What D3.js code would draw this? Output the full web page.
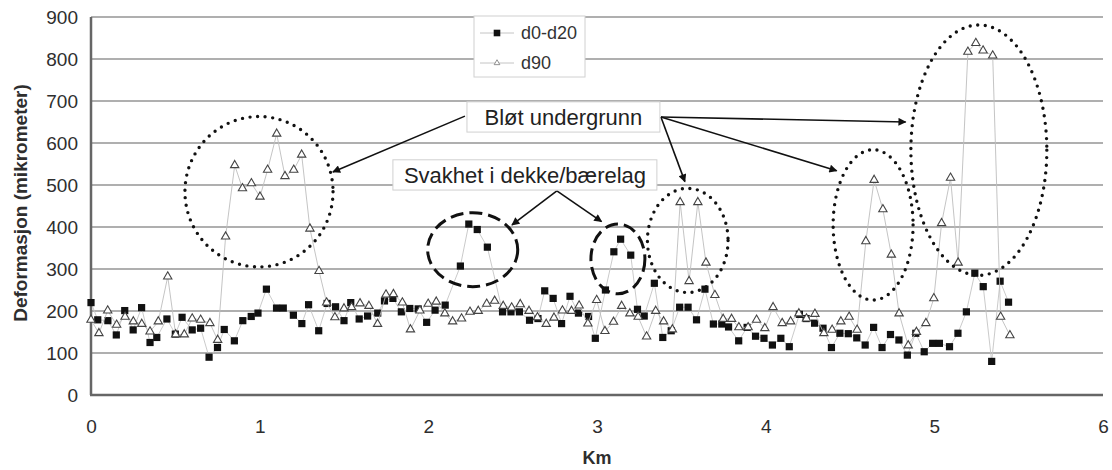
<!DOCTYPE html>
<html><head><meta charset="utf-8">
<script src="https://cdn.jsdelivr.net/npm/d3@7"></script>
<style>
body{margin:0;background:#fff}
svg{display:block}
text{font-family:"Liberation Sans", Arial, sans-serif}
</style>
</head><body>
<svg id="chart" width="1112" height="470"></svg>
<script>
// ---------- data ----------
const kmSquares = [0.00,0.04,0.10,0.15,0.20,0.25,0.30,0.35,0.39,0.45,0.50,0.54,0.60,0.65,0.70,0.75,0.79,0.85,0.90,0.95,0.99,1.04,1.10,1.14,1.20,1.25,1.29,1.35,1.40,1.45,1.50,1.54,1.59,1.64,1.70,1.74,1.79,1.84,1.89,1.94,1.99,2.04,2.10,2.19,2.24,2.29,2.35,2.44,2.49,2.54,2.60,2.65,2.69,2.74,2.79,2.84,2.89,2.95,2.99,3.05,3.10,3.14,3.20,3.24,3.28,3.34,3.39,3.44,3.49,3.54,3.59,3.64,3.69,3.74,3.78,3.84,3.89,3.94,3.99,4.04,4.09,4.14,4.20,4.24,4.29,4.34,4.39,4.44,4.49,4.54,4.59,4.64,4.69,4.74,4.79,4.84,4.89,4.94,4.99,5.03,5.09,5.14,5.19,5.24,5.29,5.34,5.39,5.44];
const d0d20 = [220,179,177,143,201,155,208,125,137,181,145,185,155,159,90,113,156,129,177,187,195,252,207,207,190,170,215,153,218,210,177,220,181,188,195,224,230,198,206,205,173,202,214,307,407,394,352,198,198,198,178,182,248,230,170,235,195,187,135,250,341,371,333,204,188,266,137,153,209,209,179,252,169,169,162,129,161,140,135,119,135,115,192,182,171,159,113,147,146,136,119,161,113,144,131,95,147,103,123,123,115,147,198,290,258,80,271,221];

const kmTriangles = [0.000,0.047,0.099,0.152,0.202,0.251,0.301,0.350,0.399,0.455,0.502,0.553,0.600,0.650,0.705,0.751,0.798,0.852,0.898,0.951,1.002,1.047,1.101,1.150,1.202,1.249,1.298,1.352,1.397,1.446,1.500,1.545,1.595,1.648,1.699,1.749,1.793,1.846,1.894,1.950,1.999,2.047,2.098,2.144,2.197,2.247,2.296,2.346,2.393,2.444,2.494,2.545,2.597,2.647,2.699,2.745,2.795,2.849,2.894,2.946,2.998,3.047,3.098,3.146,3.195,3.244,3.294,3.348,3.395,3.447,3.493,3.546,3.598,3.646,3.699,3.748,3.798,3.841,3.896,3.946,3.995,4.044,4.098,4.148,4.197,4.242,4.292,4.345,4.394,4.446,4.495,4.542,4.594,4.643,4.695,4.745,4.791,4.845,4.894,4.950,4.997,5.043,5.096,5.141,5.199,5.246,5.289,5.346,5.393,5.448];
const d90 = [179,147,201,167,186,175,169,151,175,282,144,144,182,179,171,131,377,547,492,504,472,536,622,521,536,572,396,295,220,185,206,209,218,212,169,239,240,220,156,201,217,222,194,175,182,198,200,217,224,212,208,216,200,185,169,184,201,200,213,170,226,152,174,212,194,186,139,200,175,156,459,271,459,315,238,181,181,161,161,179,159,209,171,175,194,182,193,147,155,175,186,155,366,512,442,334,194,118,150,171,230,409,517,315,817,838,820,808,186,142];

const xTicks = [0,1,2,3,4,5,6];
const yTicks = [0,100,200,300,400,500,600,700,800,900];
const seriesNames = ["d0-d20","d90"];
const xTitle = "Km";
const yTitle = "Deformasjon (mikrometer)";

// annotations in data units (km, mikrometer)
const ellipseCx = [0.996,2.263,3.124,3.538,4.637,5.264];
const ellipseCy = [484,346,324,368,405,583];
const ellipseRx = [0.439,0.267,0.160,0.239,0.237,0.403];
const ellipseRy = [179,88,83,124,179,298];
const ellipseKind = ["dot","dash","dash","dot","dot","dot"];

const labelTexts = ["Bløt undergrunn","Svakhet i dekke/bærelag"];
const labelX = [2.801,2.573];
const labelY = [662,524];
const boxX1 = [2.229,1.790], boxX2 = [3.373,3.355];
const boxY1 = [698,560], boxY2 = [626,488];

const arrowX1 = [2.217,3.379,3.379,3.379,2.762,2.762];
const arrowY1 = [664,662,662,662,486,486];
const arrowX2 = [1.434,4.830,4.421,3.521,2.496,3.027];
const arrowY2 = [531,650,534,508,405,413];

// ---------- chart ----------
const svg = d3.select("#chart");
const x = d3.scaleLinear().domain([0,6]).range([91,1103]);
const y = d3.scaleLinear().domain([0,900]).range([395,17]);

// gridlines
svg.append("g").selectAll("line").data(yTicks.filter(d=>d>0)).join("line")
  .attr("x1",x(0)).attr("x2",x(6)).attr("y1",d=>y(d)).attr("y2",d=>y(d))
  .attr("stroke","#959595").attr("stroke-width",1.4);

// axes lines
svg.append("line").attr("x1",x(0)).attr("x2",x(0)).attr("y1",y(0)).attr("y2",y(900))
  .attr("stroke","#666").attr("stroke-width",2.5);
svg.append("line").attr("x1",x(0)-1).attr("x2",x(6)).attr("y1",y(0)).attr("y2",y(0))
  .attr("stroke","#666").attr("stroke-width",2.5);

// tick labels
const yAxis = svg.append("g").attr("transform",`translate(${x(0)},0)`)
  .call(d3.axisLeft(y).tickValues(yTicks).tickSize(0).tickPadding(13).tickFormat(d3.format("d")));
yAxis.select(".domain").remove();
yAxis.selectAll("text").attr("font-size",19).attr("fill","#2e2e2e").attr("font-family","Liberation Sans, Arial, sans-serif");

const xAxis = svg.append("g").attr("transform",`translate(0,${y(0)})`)
  .call(d3.axisBottom(x).tickValues(xTicks).tickSize(0).tickPadding(25).tickFormat(d3.format("d")));
xAxis.select(".domain").remove();
xAxis.selectAll("text").attr("font-size",19).attr("fill","#2e2e2e").attr("font-family","Liberation Sans, Arial, sans-serif");

// titles
svg.append("text").attr("x",597).attr("y",464).attr("text-anchor","middle")
  .attr("font-size",18).attr("font-weight","bold").attr("fill","#2e2e2e").text(xTitle);
svg.append("text").attr("transform","translate(27,203) rotate(-90)").attr("text-anchor","middle")
  .attr("font-size",19).attr("font-weight","bold").attr("fill","#2e2e2e").text(yTitle);

// series
const sq = kmSquares.map((k,i)=>({k,v:d0d20[i]}));
const tr = kmTriangles.map((k,i)=>({k,v:d90[i]}));
const line = d3.line().x(d=>x(d.k)).y(d=>y(d.v));

svg.append("path").datum(sq).attr("d",line).attr("fill","none").attr("stroke","#c4c4c4").attr("stroke-width",0.9);
svg.append("g").selectAll("rect").data(sq).join("rect")
  .attr("x",d=>x(d.k)-3.6).attr("y",d=>y(d.v)-3.6).attr("width",7.2).attr("height",7.2).attr("fill","#111");

svg.append("path").datum(tr).attr("d",line).attr("fill","none").attr("stroke","#bdbdbd").attr("stroke-width",0.9);
const triSym = d3.symbol().type(d3.symbolTriangle).size(30);
svg.append("g").selectAll("path").data(tr).join("path")
  .attr("transform",d=>`translate(${x(d.k)},${y(d.v)})`).attr("d",triSym)
  .attr("fill","#fff").attr("stroke","#444").attr("stroke-width",1.1);

// ellipses
svg.append("g").selectAll("ellipse").data(ellipseCx.map((c,i)=>i)).join("ellipse")
  .attr("cx",i=>x(ellipseCx[i])).attr("cy",i=>y(ellipseCy[i]))
  .attr("rx",i=>x(ellipseRx[i])-x(0)).attr("ry",i=>y(0)-y(ellipseRy[i]))
  .attr("fill","none").attr("stroke","#111")
  .attr("stroke-width",i=>ellipseKind[i]==="dot"?3.4:3)
  .attr("stroke-linecap",i=>ellipseKind[i]==="dot"?"round":"butt")
  .attr("stroke-dasharray",i=>ellipseKind[i]==="dot"?"0 7.6":"13 6");

// arrows
const defs = svg.append("defs");
defs.append("marker").attr("id","ah").attr("viewBox","0 0 10 10").attr("refX",9).attr("refY",5)
  .attr("markerWidth",10).attr("markerHeight",8).attr("markerUnits","userSpaceOnUse").attr("orient","auto")
  .append("path").attr("d","M0,0 L10,5 L0,10 z").attr("fill","#111");
svg.append("g").selectAll("line").data(arrowX1.map((a,i)=>i)).join("line")
  .attr("x1",i=>x(arrowX1[i])).attr("y1",i=>y(arrowY1[i]))
  .attr("x2",i=>x(arrowX2[i])).attr("y2",i=>y(arrowY2[i]))
  .attr("stroke","#111").attr("stroke-width",1.6).attr("marker-end","url(#ah)");

// label boxes
labelTexts.forEach((t,i)=>{
  svg.append("rect").attr("x",x(boxX1[i])).attr("y",y(boxY1[i]))
    .attr("width",x(boxX2[i])-x(boxX1[i])).attr("height",y(boxY2[i])-y(boxY1[i]))
    .attr("fill","#fff").attr("stroke","#d0d0d0").attr("stroke-width",1);
  svg.append("text").attr("x",x(labelX[i])).attr("y",y(labelY[i])).attr("dy","0.36em")
    .attr("text-anchor","middle").attr("font-size",22).attr("fill","#222").text(t);
});

// legend
const lg = svg.append("g");
lg.append("rect").attr("x",474).attr("y",16).attr("width",111).attr("height",61)
  .attr("fill","#fff").attr("stroke","#d0d0d0").attr("stroke-width",1);
[33,63].forEach((ly,i)=>{
  lg.append("line").attr("x1",480).attr("x2",514).attr("y1",ly).attr("y2",ly)
    .attr("stroke","#bdbdbd").attr("stroke-width",0.9);
  if(i===0){
    lg.append("rect").attr("x",497-3.3).attr("y",ly-3.3).attr("width",6.6).attr("height",6.6).attr("fill","#111");
  } else {
    lg.append("path").attr("transform",`translate(497,${ly})`).attr("d",d3.symbol().type(d3.symbolTriangle).size(14))
      .attr("fill","#fff").attr("stroke","#777").attr("stroke-width",0.8);
  }
  lg.append("text").attr("x",521).attr("y",ly).attr("dy","0.36em").attr("font-size",18).attr("fill","#333").text(seriesNames[i]);
});
</script>
</body></html>
